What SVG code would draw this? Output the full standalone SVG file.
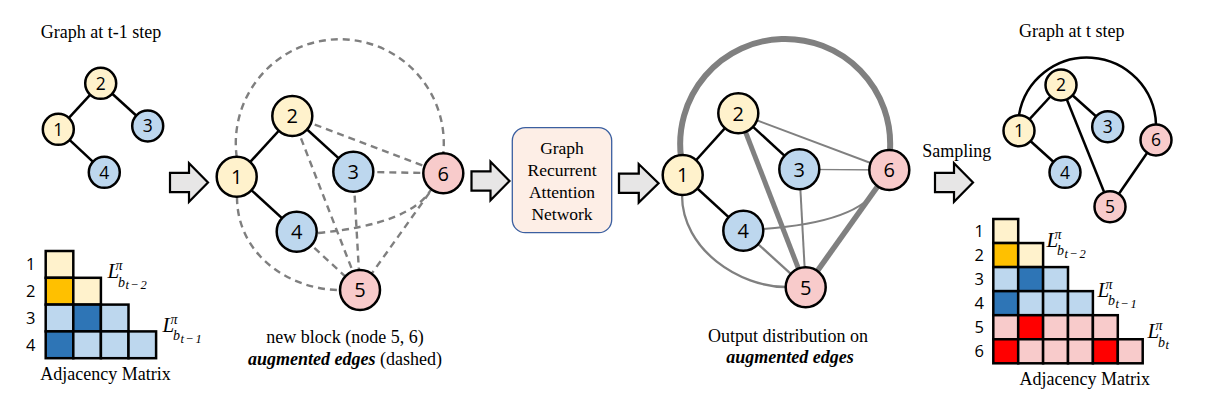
<svg xmlns="http://www.w3.org/2000/svg" xmlns:xlink="http://www.w3.org/1999/xlink" width="1224" height="401" viewBox="0 0 1224 401" font-family="'Liberation Serif', 'Times New Roman', serif" font-size="18">
<style>
svg{font-family:"Liberation Serif","Times New Roman",serif}
.t{font-family:"Liberation Serif","Times New Roman",serif;font-size:18px;fill:#000}
.c{text-anchor:middle}
.bi{font-weight:bold;font-style:italic}
.n{font-family:"Open Sans","Liberation Sans",sans-serif;text-anchor:middle;fill:#000}
.ns{font-size:17.5px}
.nl{font-size:20px}
.rl{font-family:"Open Sans","Liberation Sans",sans-serif;font-size:16.5px;text-anchor:middle;fill:#000}
.cy{fill:#FFF2CC}.co{fill:#FFC000}.cb{fill:#BDD7EE}.cdb{fill:#2E75B6}.cp{fill:#F8CBCB}.cr{fill:#FF0000}
circle{stroke:#000;stroke-width:2.5}
.cells rect{stroke:#000;stroke-width:2.5}
.blk{stroke:#000;stroke-width:2.5;fill:none}
.dash{stroke:#7F7F7F;stroke-width:2.4;stroke-dasharray:7 5;fill:none}
.g{stroke:#808080;fill:none}
.L{font-family:"Liberation Serif","Times New Roman",serif;font-style:italic;fill:#000;font-size:21px}
.sp{font-size:14px}
.ss{font-size:12.5px;letter-spacing:1.6px}
</style>
<defs>
<path id="arr" d="M0,-9.6 H19 V-19.2 L38,0 L19,19.2 V9.6 H0 Z" fill="#E7E6E6" stroke="#000" stroke-width="2.2" stroke-linejoin="miter"/>
</defs>

<!-- titles / captions -->
<g font-family="'Liberation Serif', 'Times New Roman', serif" font-size="18">
<text class="t c" x="101" y="38">Graph at t-1 step</text>
<text class="t c" x="1071.7" y="37.3">Graph at t step</text>
<text class="t c" x="105.5" y="380">Adjacency Matrix</text>
<text class="t c" x="1084.7" y="385">Adjacency Matrix</text>
<text class="t c" x="345" y="343">new block (node 5, 6)</text>
<text class="t c" x="345" y="365"><tspan class="bi">augmented edges</tspan> (dashed)</text>
<text class="t c" x="788" y="341.7">Output distribution on</text>
<text class="t c bi" x="790" y="363.3">augmented edges</text>
<text class="t c" x="956.7" y="157.3">Sampling</text>
</g>

<!-- connectors -->
<g id="connectors">
  <!-- graph t-1 -->
  <line class="blk" x1="58.3" y1="129.3" x2="100.7" y2="83.3"/>
  <line class="blk" x1="100.7" y1="83.3" x2="147.7" y2="126"/>
  <line class="blk" x1="58.3" y1="129.3" x2="104.3" y2="172.3"/>
  <!-- augmented graph (dashed) -->
  <path class="dash" d="M236.7,157 A104,104 0 1 1 443.3,153.3"/>
  <path class="dash" d="M237,197 C237,255 290,290 340,290"/>
  <line class="dash" x1="292.3" y1="116" x2="443.3" y2="173.3"/>
  <line class="dash" x1="353.3" y1="171.7" x2="443.3" y2="173.3"/>
  <path class="dash" d="M318,233 Q412,224 432,188"/>
  <line class="dash" x1="292.3" y1="116" x2="360" y2="290"/>
  <line class="dash" x1="353.3" y1="171.7" x2="360" y2="290"/>
  <line class="dash" x1="296.7" y1="231.7" x2="360" y2="290"/>
  <line class="dash" x1="443.3" y1="173.3" x2="360" y2="290"/>
  <line class="blk" x1="236.7" y1="176.7" x2="292.3" y2="116"/>
  <line class="blk" x1="292.3" y1="116" x2="353.3" y2="171.7"/>
  <line class="blk" x1="236.7" y1="176.7" x2="296.7" y2="231.7"/>
  <!-- output distribution graph -->
  <path class="g" stroke-width="6" d="M681,157 A105,105 0 1 1 890,150"/>
  <path class="g" stroke-width="2.3" d="M682,195 C682,250 740,287 786,287"/>
  <line class="g" stroke-width="2" x1="738.3" y1="113.3" x2="889.3" y2="170"/>
  <line class="g" stroke-width="1.3" x1="799.3" y1="169.3" x2="889.3" y2="170"/>
  <path class="g" stroke-width="1.8" d="M763,229 Q860,222 878,187"/>
  <line class="g" stroke-width="5" x1="738.3" y1="113.3" x2="805.7" y2="287.3"/>
  <line class="g" stroke-width="2" x1="799.3" y1="169.3" x2="805.7" y2="287.3"/>
  <line class="g" stroke-width="2.3" x1="743.3" y1="230.7" x2="805.7" y2="287.3"/>
  <line class="g" stroke-width="5.5" x1="889.3" y1="170" x2="805.7" y2="287.3"/>
  <line class="blk" x1="682.7" y1="175" x2="738.3" y2="113.3"/>
  <line class="blk" x1="738.3" y1="113.3" x2="799.3" y2="169.3"/>
  <line class="blk" x1="682.7" y1="175" x2="743.3" y2="230.7"/>
  <!-- graph t -->
  <path class="blk" d="M1019,115 A69,69 0 0 1 1156,124.5"/>
  <line class="blk" x1="1019" y1="130.7" x2="1061" y2="85"/>
  <line class="blk" x1="1061" y1="85" x2="1107.7" y2="126.7"/>
  <line class="blk" x1="1019" y1="130.7" x2="1065" y2="172.3"/>
  <line class="blk" x1="1061" y1="85" x2="1110" y2="206.7"/>
  <line class="blk" x1="1156" y1="140" x2="1110" y2="206.7"/>
  <!-- block arrows -->
  <use xlink:href="#arr" href="#arr" transform="translate(170,182.5)"/>
  <use xlink:href="#arr" href="#arr" transform="translate(471.5,181)"/>
  <use xlink:href="#arr" href="#arr" transform="translate(619,183.3) scale(1.04,1)"/>
  <use xlink:href="#arr" href="#arr" transform="translate(935,182.5)"/>
</g>

<!-- graph t-1 nodes -->
<g id="a1"><circle class="cy" cx="58.3" cy="129.3" r="15.5"/><text class="n ns" x="58.3" y="135.6">1</text></g>
<g id="a2"><circle class="cy" cx="100.7" cy="83.3" r="15.5"/><text class="n ns" x="100.7" y="89.6">2</text></g>
<g id="a3"><circle class="cb" cx="147.7" cy="126" r="15.5"/><text class="n ns" x="147.7" y="132.3">3</text></g>
<g id="a4"><circle class="cb" cx="104.3" cy="172.3" r="15.5"/><text class="n ns" x="104.3" y="178.6">4</text></g>

<!-- augmented graph nodes -->
<g id="b1"><circle class="cy" cx="236.7" cy="176.7" r="20"/><text class="n nl" x="236.7" y="183.9">1</text></g>
<g id="b2"><circle class="cy" cx="292.3" cy="116" r="20"/><text class="n nl" x="292.3" y="123.2">2</text></g>
<g id="b3"><circle class="cb" cx="353.3" cy="171.7" r="20"/><text class="n nl" x="353.3" y="178.9">3</text></g>
<g id="b4"><circle class="cb" cx="296.7" cy="231.7" r="20"/><text class="n nl" x="296.7" y="238.9">4</text></g>
<g id="b5"><circle class="cp" cx="360" cy="290" r="20"/><text class="n nl" x="360" y="297.2">5</text></g>
<g id="b6"><circle class="cp" cx="443.3" cy="173.3" r="20"/><text class="n nl" x="443.3" y="180.5">6</text></g>

<!-- GRAN box -->
<g id="gran" font-family="'Liberation Serif', 'Times New Roman', serif">
  <rect x="512.3" y="127.7" width="99.4" height="105" rx="13" fill="#FDEEE6" stroke="#3B5FA0" stroke-width="1.3"/>
  <text class="t c" style="font-size:17.5px" x="562" y="154.3">Graph</text>
  <text class="t c" style="font-size:17.5px" x="562" y="176">Recurrent</text>
  <text class="t c" style="font-size:17.5px" x="562" y="198.3">Attention</text>
  <text class="t c" style="font-size:17.5px" x="562" y="219.5">Network</text>
</g>

<!-- output graph nodes -->
<g id="c1"><circle class="cy" cx="682.7" cy="175" r="20"/><text class="n nl" x="682.7" y="182.2">1</text></g>
<g id="c2"><circle class="cy" cx="738.3" cy="113.3" r="20"/><text class="n nl" x="738.3" y="120.5">2</text></g>
<g id="c3"><circle class="cb" cx="799.3" cy="169.3" r="20"/><text class="n nl" x="799.3" y="176.5">3</text></g>
<g id="c4"><circle class="cb" cx="743.3" cy="230.7" r="20"/><text class="n nl" x="743.3" y="237.9">4</text></g>
<g id="c5"><circle class="cp" cx="805.7" cy="287.3" r="20"/><text class="n nl" x="805.7" y="294.5">5</text></g>
<g id="c6"><circle class="cp" cx="889.3" cy="170" r="20"/><text class="n nl" x="889.3" y="177.2">6</text></g>

<!-- graph t nodes -->
<g id="d1"><circle class="cy" cx="1019" cy="130.7" r="15.5"/><text class="n ns" x="1019" y="137">1</text></g>
<g id="d2"><circle class="cy" cx="1061" cy="85" r="15.5"/><text class="n ns" x="1061" y="91.3">2</text></g>
<g id="d3"><circle class="cb" cx="1107.7" cy="126.7" r="15.5"/><text class="n ns" x="1107.7" y="133">3</text></g>
<g id="d4"><circle class="cb" cx="1065" cy="172.3" r="15.5"/><text class="n ns" x="1065" y="178.6">4</text></g>
<g id="d5"><circle class="cp" cx="1110" cy="206.7" r="15.5"/><text class="n ns" x="1110" y="213">5</text></g>
<g id="d6"><circle class="cp" cx="1156" cy="140" r="15.5"/><text class="n ns" x="1156" y="146.3">6</text></g>

<!-- left adjacency matrix -->
<g id="matrix-left">
  <g class="cells">
    <rect class="cy" x="45.7" y="251" width="27.6" height="26.8"/>
    <rect class="co" x="45.7" y="277.8" width="27.6" height="26.8"/>
    <rect class="cy" x="73.3" y="277.8" width="27.6" height="26.8"/>
    <rect class="cb" x="45.7" y="304.6" width="27.6" height="26.8"/>
    <rect class="cdb" x="73.3" y="304.6" width="27.6" height="26.8"/>
    <rect class="cb" x="100.9" y="304.6" width="27.6" height="26.8"/>
    <rect class="cdb" x="45.7" y="331.4" width="27.6" height="26.8"/>
    <rect class="cb" x="73.3" y="331.4" width="27.6" height="26.8"/>
    <rect class="cb" x="100.9" y="331.4" width="27.6" height="26.8"/>
    <rect class="cb" x="128.5" y="331.4" width="27.6" height="26.8"/>
  </g>
  <text class="rl" x="30.7" y="270.4">1</text>
  <text class="rl" x="30.7" y="297.2">2</text>
  <text class="rl" x="30.7" y="324">3</text>
  <text class="rl" x="30.7" y="350.8">4</text>
  <text class="L" transform="translate(107.5,278)" x="0" y="0">L<tspan class="sp" x="8" y="-8">π</tspan><tspan class="sp" x="10.5" y="8.5">b</tspan><tspan class="ss" x="18" y="11">t−2</tspan></text>
  <text class="L" transform="translate(162.5,331.7)" x="0" y="0">L<tspan class="sp" x="8" y="-8">π</tspan><tspan class="sp" x="10.5" y="8.5">b</tspan><tspan class="ss" x="18" y="11">t−1</tspan></text>
</g>

<!-- right adjacency matrix -->
<g id="matrix-right">
  <g class="cells">
    <rect class="cy" x="993.3" y="219" width="24.9" height="24.05"/>
    <rect class="co" x="993.3" y="243.05" width="24.9" height="24.05"/>
    <rect class="cy" x="1018.2" y="243.05" width="24.9" height="24.05"/>
    <rect class="cb" x="993.3" y="267.1" width="24.9" height="24.05"/>
    <rect class="cdb" x="1018.2" y="267.1" width="24.9" height="24.05"/>
    <rect class="cb" x="1043.1" y="267.1" width="24.9" height="24.05"/>
    <rect class="cdb" x="993.3" y="291.15" width="24.9" height="24.05"/>
    <rect class="cb" x="1018.2" y="291.15" width="24.9" height="24.05"/>
    <rect class="cb" x="1043.1" y="291.15" width="24.9" height="24.05"/>
    <rect class="cb" x="1068" y="291.15" width="24.9" height="24.05"/>
    <rect class="cp" x="993.3" y="315.2" width="24.9" height="24.05"/>
    <rect class="cr" x="1018.2" y="315.2" width="24.9" height="24.05"/>
    <rect class="cp" x="1043.1" y="315.2" width="24.9" height="24.05"/>
    <rect class="cp" x="1068" y="315.2" width="24.9" height="24.05"/>
    <rect class="cp" x="1092.9" y="315.2" width="24.9" height="24.05"/>
    <rect class="cr" x="993.3" y="339.25" width="24.9" height="24.05"/>
    <rect class="cp" x="1018.2" y="339.25" width="24.9" height="24.05"/>
    <rect class="cp" x="1043.1" y="339.25" width="24.9" height="24.05"/>
    <rect class="cp" x="1068" y="339.25" width="24.9" height="24.05"/>
    <rect class="cr" x="1092.9" y="339.25" width="24.9" height="24.05"/>
    <rect class="cp" x="1117.8" y="339.25" width="24.9" height="24.05"/>
  </g>
  <text class="rl" x="979.3" y="237">1</text>
  <text class="rl" x="979.3" y="261">2</text>
  <text class="rl" x="979.3" y="285.1">3</text>
  <text class="rl" x="979.3" y="309.2">4</text>
  <text class="rl" x="979.3" y="333.2">5</text>
  <text class="rl" x="979.3" y="357.3">6</text>
  <text class="L" transform="translate(1046.5,246.7)" x="0" y="0">L<tspan class="sp" x="8" y="-8">π</tspan><tspan class="sp" x="10.5" y="8.5">b</tspan><tspan class="ss" x="18" y="11">t−2</tspan></text>
  <text class="L" transform="translate(1097.5,296.7)" x="0" y="0">L<tspan class="sp" x="8" y="-8">π</tspan><tspan class="sp" x="10.5" y="8.5">b</tspan><tspan class="ss" x="18" y="11">t−1</tspan></text>
  <text class="L" transform="translate(1147.5,338.3)" x="0" y="0">L<tspan class="sp" x="8" y="-8">π</tspan><tspan class="sp" x="10.5" y="8.5">b</tspan><tspan class="ss" x="18" y="11">t</tspan></text>
</g>
</svg>
